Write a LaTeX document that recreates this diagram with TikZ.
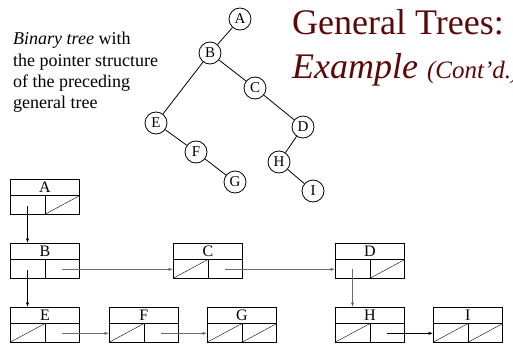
\documentclass[tikz,border=0pt]{standalone}
\usepackage{fontspec}
\setmainfont{Liberation Serif}
\usetikzlibrary{arrows.meta}
\definecolor{titlered}{RGB}{92,8,8}
\definecolor{ptrgray}{gray}{0.42}

% One cell of the first-child / next-sibling list
\newcommand\lnode[4]{%
  \node[listbox, anchor=north west] (#1) at (#2,#3) {};
  \node[boxlabel] (#1-t) at ([yshift=-8.25pt]#1.north) {#4};
  \draw[midline] ([yshift=-16.5pt]#1.north west) -- ([yshift=-16.5pt]#1.north east);
  \draw ([xshift=35pt,yshift=-16.5pt]#1.north west) -- ([xshift=35pt]#1.south west);
  \coordinate (#1-l) at ([xshift=17.5pt,yshift=9pt]#1.south west);
  \coordinate (#1-r) at ([xshift=52pt,yshift=9pt]#1.south west);
}
% null pointers: slash through the left / right cell
\newcommand\nilL[1]{\draw (#1.south west) -- ([xshift=35pt,yshift=-16.5pt]#1.north west);}
\newcommand\nilR[1]{\draw ([xshift=35pt]#1.south west) -- ([yshift=-16.5pt]#1.north east);}

\begin{document}
\begin{tikzpicture}[x=1pt,y=-1pt,
  listbox/.style={draw, line width=0.8pt, minimum width=69pt, minimum height=34.5pt, inner sep=0pt},
  boxlabel/.style={inner sep=0pt, font=\fontsize{16}{16}\selectfont},
  midline/.style={line width=1.4pt},
  tnode/.style={draw, circle, line width=0.8pt, minimum size=22pt, inner sep=0pt, font=\fontsize{15}{15}\selectfont},
  tedge/.style={line width=0.8pt},
  ptr/.style={line width=0.8pt, -{Latex[length=4.5pt,width=3.5pt]}},
  gptr/.style={ptr, draw=ptrgray},
  txt/.style={anchor=base west, inner sep=0pt, font=\fontsize{18}{21}\selectfont}
]
\useasboundingbox (0,0) rectangle (513,345);

% title
\node[anchor=base west, inner sep=0pt, text=titlered, font=\fontsize{36}{36}\selectfont] (title1) at (292,35) {General Trees:};
\node[anchor=base west, inner sep=0pt, text=titlered, font=\fontsize{36}{36}\selectfont\itshape] (title2) at (292,78) {Example {\fontsize{25}{25}\selectfont (Cont'd.)}};

% caption
\node[txt] (cap1) at (13,45) {\textit{Binary tree} with};
\node[txt] (cap2) at (13,66) {the pointer structure};
\node[txt] (cap3) at (13,87) {of the preceding};
\node[txt] (cap4) at (13,108) {general tree};

% binary tree
\node[tnode] (tA) at (240,19) {A};
\node[tnode] (tB) at (210,53) {B};
\node[tnode] (tC) at (255,88) {C};
\node[tnode] (tD) at (303,127) {D};
\node[tnode] (tH) at (279,162) {H};
\node[tnode] (tI) at (313,191) {I};
\node[tnode] (tE) at (156,123) {E};
\node[tnode] (tF) at (196,152) {F};
\node[tnode] (tG) at (235,182) {G};
\draw[tedge] (tA) -- (tB);
\draw[tedge] (tB) -- (tC);
\draw[tedge] (tB) -- (tE);
\draw[tedge] (tC) -- (tD);
\draw[tedge] (tD) -- (tH);
\draw[tedge] (tH) -- (tI);
\draw[tedge] (tE) -- (tF);
\draw[tedge] (tF) -- (tG);

% linked representation
\lnode{A}{10}{179}{A}   \nilR{A}
\lnode{B}{10}{243}{B}
\lnode{E}{10}{307}{E}   \nilL{E}
\lnode{C}{173}{243}{C}  \nilL{C}
\lnode{F}{109}{307}{F}  \nilL{F}
\lnode{G}{207}{307}{G}  \nilL{G} \nilR{G}
\lnode{D}{335}{243}{D}  \nilR{D}
\lnode{H}{335}{307}{H}  \nilL{H}
\lnode{I}{433}{307}{I}  \nilL{I} \nilR{I}

\draw[ptr] ([yshift=-1pt]A-l) -- (A-l |- B.north);
\draw[ptr] ([yshift=-1pt]B-l) -- (B-l |- E.north);
\draw[gptr] (B-r) -- (B-r -| C.west);
\draw[gptr] (C-r) -- (C-r -| D.west);
\draw[gptr] (D-l) -- (D-l |- H.north);
\draw[gptr] (E-r) -- (E-r -| F.west);
\draw[gptr] (F-r) -- (F-r -| G.west);
\draw[ptr] (H-r) -- (H-r -| I.west);
\end{tikzpicture}
\end{document}
